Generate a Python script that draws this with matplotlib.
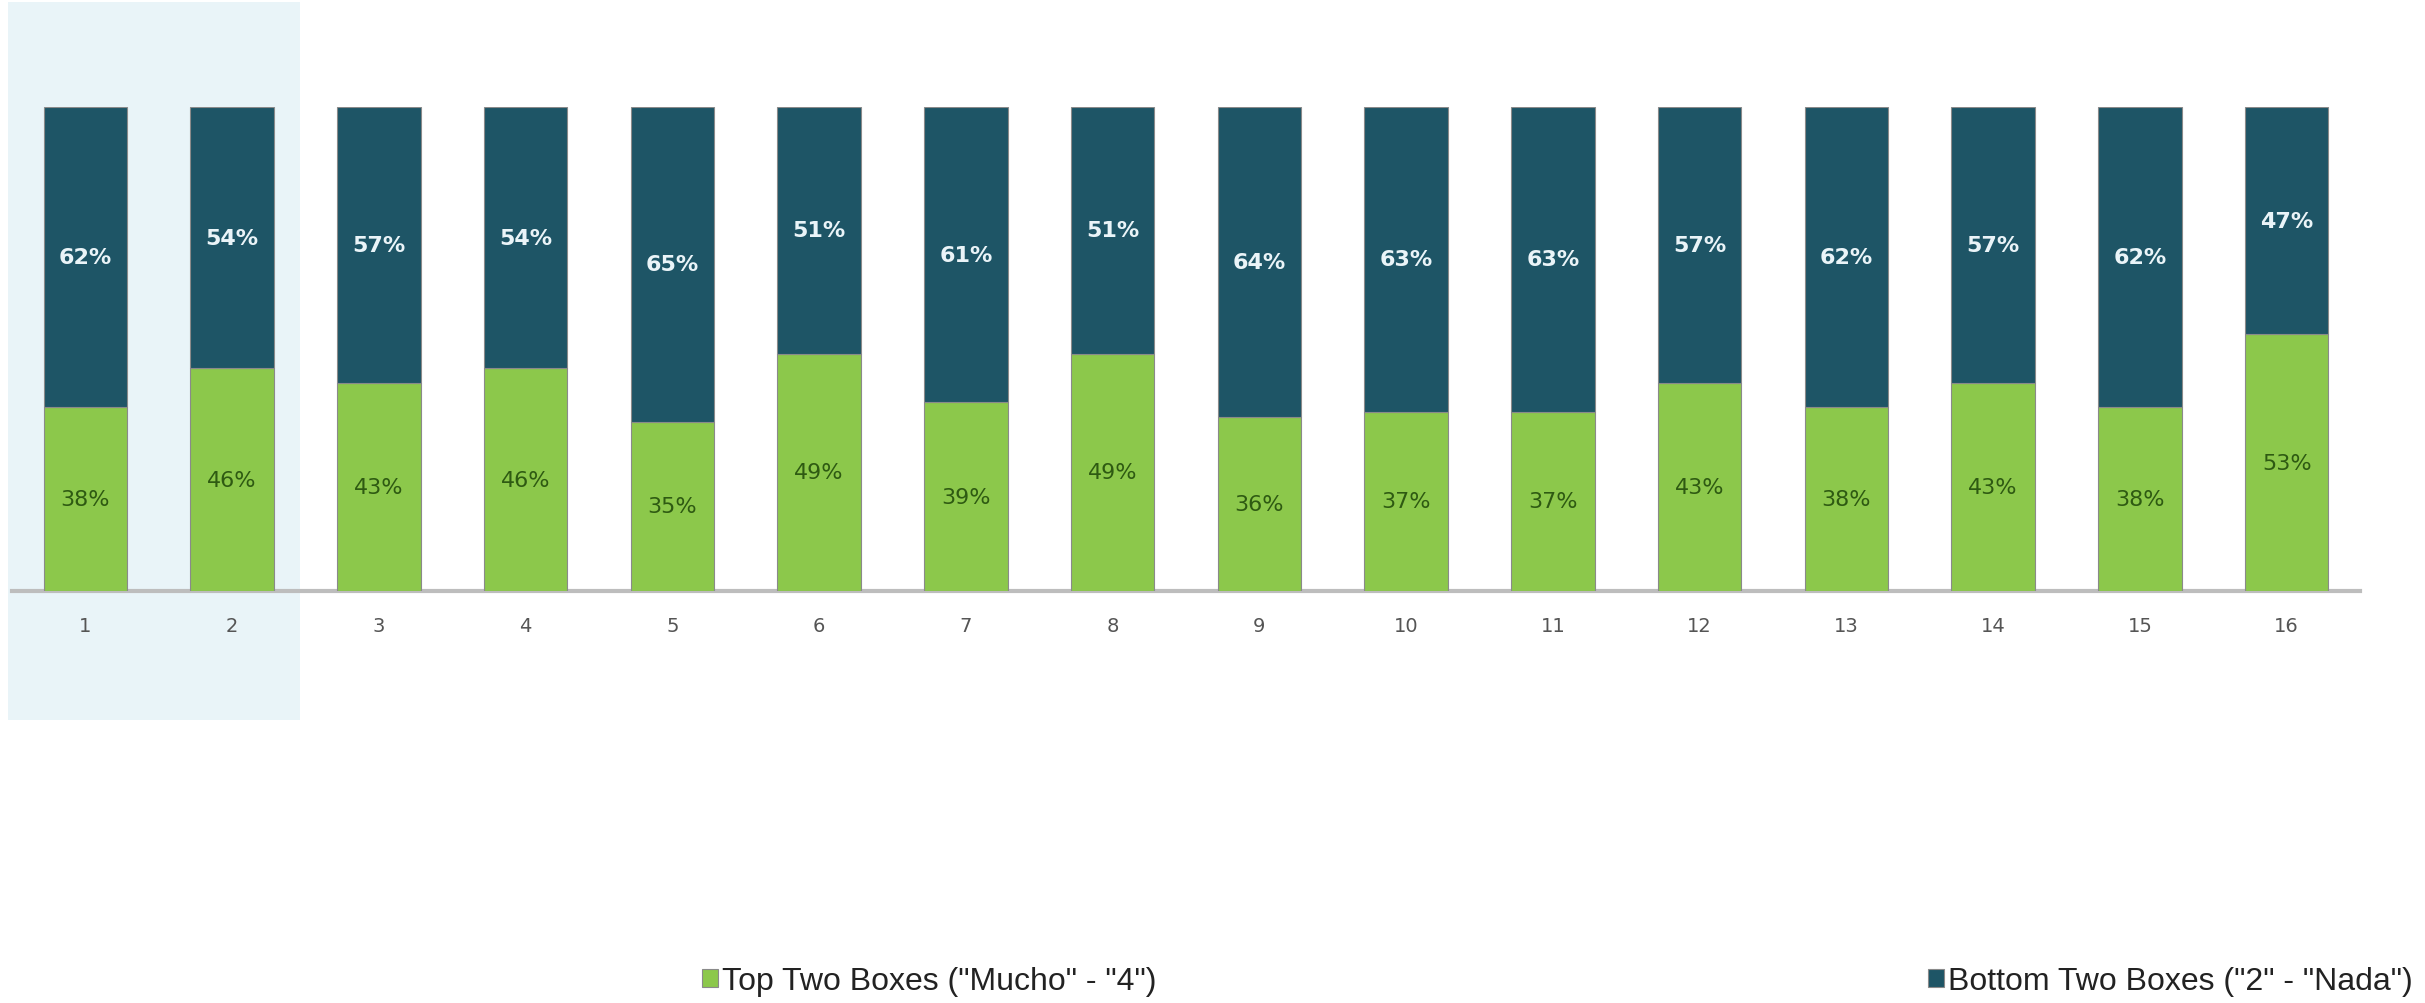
import matplotlib
matplotlib.use("Agg")
import matplotlib.pyplot as plt
from matplotlib.patches import Rectangle

categories = [str(i) for i in range(1, 17)]
top_two = [38, 46, 43, 46, 35, 49, 39, 49, 36, 37, 37, 43, 38, 43, 38, 53]
bottom_two = [62, 54, 57, 54, 65, 51, 61, 51, 64, 63, 63, 57, 62, 57, 62, 47]
legend_labels = ['Top Two Boxes ("Mucho" - "4")', 'Bottom Two Boxes ("2" - "Nada")']

GREEN = "#8CC84B"
DARK = "#1E5566"

W, H = 2425, 1004
fig = plt.figure(figsize=(W / 100, H / 100), dpi=100)
ax = fig.add_axes([12 / W, 412 / H, (2360 - 12) / W, (896 - 412) / H])
ax.patch.set_visible(False)

x = list(range(1, len(categories) + 1))
b1 = ax.bar(x, top_two, width=0.57, color=GREEN, edgecolor="#8a8a8a", linewidth=0.8, zorder=3)
b2 = ax.bar(x, bottom_two, width=0.57, bottom=top_two, color=DARK, edgecolor="#8a8a8a",
            linewidth=0.8, zorder=3)

# highlight band behind first two categories
ax.add_patch(Rectangle((0.475, -26.7), 2.465 - 0.475, 121.7 + 26.7, facecolor="#E9F4F8",
                       edgecolor="none", zorder=0, clip_on=False))

for xi, g, d in zip(x, top_two, bottom_two):
    ax.text(xi, g / 2, f"{g}%", ha="center", va="center", fontsize=16,
            color="#2E5A12", zorder=4)
    ax.text(xi, g + d / 2, f"{d}%", ha="center", va="center", fontsize=16,
            fontweight="bold", color="#EAF4F8", zorder=4)

ax.set_xlim(0.5, 16.5)
ax.set_ylim(0, 100)
ax.set_xticks(x)
ax.set_xticklabels(categories, fontsize=14, color="#555555")
ax.tick_params(axis="x", length=0, pad=18)
ax.set_yticks([])
for s in ["top", "left", "right"]:
    ax.spines[s].set_visible(False)
ax.spines["bottom"].set_color("#BDBDBD")
ax.spines["bottom"].set_linewidth(3)
ax.spines["bottom"].set_zorder(2)

lkw = dict(frameon=False, handlelength=0.5, handleheight=0.5, handletextpad=0.12,
           borderpad=0, borderaxespad=0,
           prop={"family": "Liberation Sans", "size": 23})
leg1 = fig.legend([b1], [legend_labels[0]], loc="center left",
                  bbox_to_anchor=(702 / W, 1 - 982 / H), **lkw)
leg2 = fig.legend([b2], [legend_labels[1]], loc="center left",
                  bbox_to_anchor=(1928 / W, 1 - 982 / H), **lkw)
for lg in (leg1, leg2):
    for t in lg.get_texts():
        t.set_color("#222222")

fig.savefig("out.png", dpi=100, facecolor="white")
